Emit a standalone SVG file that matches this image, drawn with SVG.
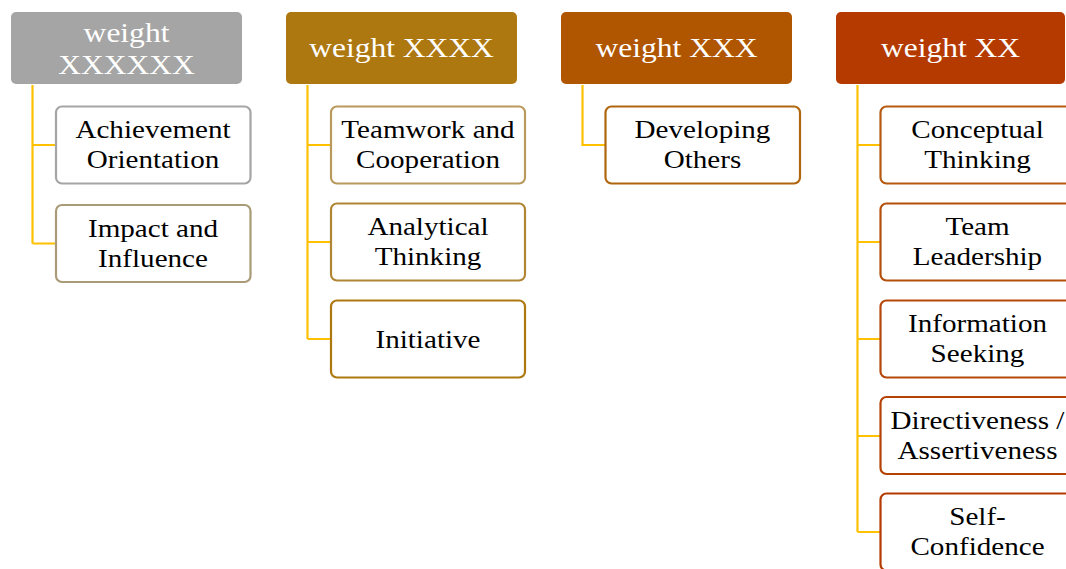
<svg xmlns="http://www.w3.org/2000/svg" width="1066" height="569" viewBox="0 0 1066 569">
<style>
.hdr{stroke:none}
.hd{font-family:"Liberation Serif","Times New Roman",serif;font-size:26.5px;fill:#ffffff;text-anchor:middle}
.ch{font-family:"Liberation Serif","Times New Roman",serif;font-size:26px;fill:#000000;text-anchor:middle}
.box{fill:#ffffff;stroke-width:2.2}
.con{fill:none;stroke:#ffc000;stroke-width:2.2}
</style>
<rect width="1066" height="569" fill="#ffffff"/>
<g id="connectors">
<path class="con" d="M32.5,85 V243.5 M32.5,145 H56 M32.5,243.5 H56"/>
<path class="con" d="M307.5,85 V339 M307.5,145 H331 M307.5,242 H331 M307.5,339 H331"/>
<path class="con" d="M582.5,85 V145 H605"/>
<path class="con" d="M857.5,85 V532 M857.5,145 H880 M857.5,242 H880 M857.5,339 H880 M857.5,436 H880 M857.5,532 H880"/>
</g>
<g id="h1"><rect class="hdr" x="11" y="12" width="231" height="72" rx="5" fill="#a5a5a5"/>
<text class="hd" transform="translate(126.5,41.7) scale(1.19,1)"><tspan x="0">weight</tspan><tspan x="0" dy="32.3">XXXXXX</tspan></text></g>
<g id="h2"><rect class="hdr" x="286" y="12" width="231" height="72" rx="5" fill="#ae7810"/>
<text class="hd" transform="translate(401.5,57.3) scale(1.19,1)" x="0">weight XXXX</text></g>
<g id="h3"><rect class="hdr" x="561" y="12" width="231" height="72" rx="5" fill="#b05500"/>
<text class="hd" transform="translate(676.5,57.3) scale(1.19,1)" x="0">weight XXX</text></g>
<g id="h4"><rect class="hdr" x="836" y="12" width="229" height="72" rx="5" fill="#b53a00"/>
<text class="hd" transform="translate(950.5,57.3) scale(1.19,1)" x="0">weight XX</text></g>

<g id="c1a"><rect class="box" x="56" y="106.5" width="194.5" height="77" rx="6" stroke="#a5a5a5"/>
<text class="ch" transform="translate(153,138.3) scale(1.12,1)"><tspan x="0">Achievement</tspan><tspan x="0" dy="30">Orientation</tspan></text></g>
<g id="c1b"><rect class="box" x="56" y="205" width="194.5" height="77" rx="6" stroke="#a99b78"/>
<text class="ch" transform="translate(153,236.7) scale(1.12,1)"><tspan x="0">Impact and</tspan><tspan x="0" dy="30">Influence</tspan></text></g>

<g id="c2a"><rect class="box" x="331" y="106.5" width="194" height="77" rx="6" stroke="#b9995c"/>
<text class="ch" transform="translate(428,138.3) scale(1.12,1)"><tspan x="0">Teamwork and</tspan><tspan x="0" dy="30">Cooperation</tspan></text></g>
<g id="c2b"><rect class="box" x="331" y="203.5" width="194" height="77" rx="6" stroke="#b08634"/>
<text class="ch" transform="translate(428,235.3) scale(1.12,1)"><tspan x="0">Analytical</tspan><tspan x="0" dy="30">Thinking</tspan></text></g>
<g id="c2c"><rect class="box" x="331" y="300.5" width="194" height="77" rx="6" stroke="#ae7810"/>
<text class="ch" transform="translate(428,347.7) scale(1.12,1)" x="0">Initiative</text></g>

<g id="c3a"><rect class="box" x="605.5" y="106.5" width="194.5" height="77" rx="6" stroke="#b0660e"/>
<text class="ch" transform="translate(702.5,138.3) scale(1.12,1)"><tspan x="0">Developing</tspan><tspan x="0" dy="30">Others</tspan></text></g>

<g id="c4a"><rect class="box" x="880.5" y="106.5" width="194.5" height="77" rx="6" stroke="#b55a10"/>
<text class="ch" transform="translate(977.5,138.3) scale(1.12,1)"><tspan x="0">Conceptual</tspan><tspan x="0" dy="30">Thinking</tspan></text></g>
<g id="c4b"><rect class="box" x="880.5" y="203.5" width="194.5" height="77" rx="6" stroke="#b5500c"/>
<text class="ch" transform="translate(977.5,235.3) scale(1.12,1)"><tspan x="0">Team</tspan><tspan x="0" dy="30">Leadership</tspan></text></g>
<g id="c4c"><rect class="box" x="880.5" y="300.5" width="194.5" height="77" rx="6" stroke="#b4480a"/>
<text class="ch" transform="translate(977.5,332.3) scale(1.12,1)"><tspan x="0">Information</tspan><tspan x="0" dy="30">Seeking</tspan></text></g>
<g id="c4d"><rect class="box" x="880.5" y="397" width="194.5" height="77" rx="6" stroke="#b44205"/>
<text class="ch" transform="translate(977.5,428.8) scale(1.12,1)"><tspan x="0">Directiveness /</tspan><tspan x="0" dy="30">Assertiveness</tspan></text></g>
<g id="c4e"><rect class="box" x="880.5" y="493.5" width="194.5" height="77" rx="6" stroke="#b53a00"/>
<text class="ch" transform="translate(977.5,525.3) scale(1.12,1)"><tspan x="0">Self-</tspan><tspan x="0" dy="30">Confidence</tspan></text></g>
</svg>
